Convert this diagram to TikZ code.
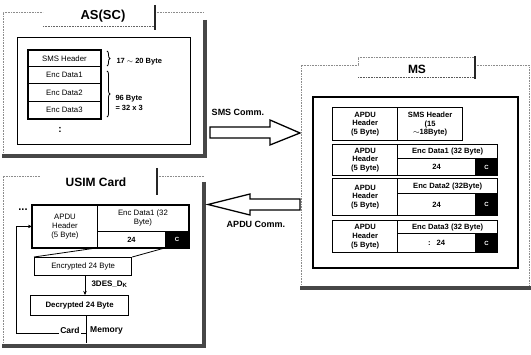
\documentclass[tikz,border=0pt]{standalone}
\usepackage{fontspec}
\setmainfont{Liberation Sans}
\usetikzlibrary{decorations.pathreplacing,arrows.meta}
\begin{document}
\begin{tikzpicture}[x=1pt,y=-1pt,
  cellbox/.style={draw, line width=0.9pt, inner sep=0pt, align=center,
    font=\fontsize{7.8}{9}\selectfont, anchor=north west},
  mscell/.style={cellbox, line width=1.3pt, font=\bfseries\fontsize{7.6}{8.8}\selectfont},
  blackcell/.style={cellbox, fill=black, text=white, font=\bfseries\fontsize{6}{7}\selectfont},
  faint/.style={draw=black!45, line width=0.6pt, dash pattern=on 0.8pt off 0.8pt},
  shadow/.style={draw=black!72, line width=3.6pt},
  tabbar/.style={draw=black!85, line width=2pt},
  titletext/.style={font=\bfseries\fontsize{13}{14}\selectfont},
  commtext/.style={font=\bfseries\fontsize{9}{10}\selectfont},
  blockarrow/.style={draw, line width=1.3pt, fill=white, line join=miter}
]
\useasboundingbox (0,0) rectangle (531,355);

% ===== AS(SC) frame =====
\draw[faint] (3,156) -- (3,12) -- (43,12);
\draw[faint] (155,12) -- (204,12);
\draw[faint, draw=black!60, line width=0.9pt] (43,26) -- (155,26);
\draw[tabbar] (155,5) -- (155,30);
\draw[shadow] (205,20) -- (205,156) -- (2,156);
\node[titletext] (astitle) at (103,16) {AS(SC)};
\draw[line width=1pt] (17,38) rectangle (190,145);

\node[cellbox, minimum width=72pt, minimum height=16pt] (ash) at (28,50) {SMS Header};
\node[cellbox, minimum width=72pt, minimum height=17pt] (ae1) at (28,66) {Enc Data1};
\node[cellbox, minimum width=72pt, minimum height=18pt] (ae2) at (28,83) {Enc Data2};
\node[cellbox, minimum width=72pt, minimum height=17pt] (ae3) at (28,101) {Enc Data3};
\draw[line width=1.5pt] (ash.north west) rectangle (ae3.south east);
\node[font=\bfseries\fontsize{10}{10}\selectfont] (adots) at (60,130) {:};

\draw[decorate, decoration={brace, amplitude=3pt}, line width=0.8pt] (107,51) -- (107,66);
\draw[decorate, decoration={brace, amplitude=3pt}, line width=0.8pt] (107,71) -- (107,117);
\node[anchor=west, font=\bfseries\fontsize{7.5}{8}\selectfont] (b1) at (113,62) {17 $\sim$ 20 Byte};
\node[anchor=west, align=left, font=\bfseries\fontsize{7.5}{10}\selectfont] (b2) at (112,103) {96 Byte\\= 32 x 3};

% ===== USIM Card frame =====
\draw[faint] (3,346) -- (3,176) -- (40,176);
\draw[faint] (157,176) -- (204,176);
\draw[tabbar] (157,168) -- (157,195);
\draw[shadow] (204,182) -- (204,346) -- (2,346);
\node[titletext, font=\bfseries\fontsize{12}{13}\selectfont] (usimtitle) at (96,182) {USIM Card};

\node[anchor=base, inner sep=0pt, font=\bfseries\fontsize{11}{11}\selectfont] (udots) at (23,211) {...};
\node[cellbox, minimum width=65pt, minimum height=42pt] (uah) at (32,205) {APDU\\Header\\(5 Byte)};
\node[cellbox, minimum width=91pt, minimum height=26pt] (uenc) at (97,205) {Enc Data1 (32\\Byte)};
\node[cellbox, minimum width=68pt, minimum height=16pt, font=\bfseries\fontsize{7.5}{8}\selectfont] (u24) at (97,231) {24};
\node[blackcell, minimum width=23pt, minimum height=16pt] (uc) at (165,231) {C};
\draw[line width=1.4pt] (uah.north west) rectangle (uc.south east);

\node[cellbox, line width=1.3pt, minimum width=97pt, minimum height=18pt] (encr) at (34,257) {Encrypted 24 Byte};
\node[cellbox, line width=1.3pt, minimum width=98pt, minimum height=20pt, font=\bfseries\fontsize{7.8}{9}\selectfont] (decr) at (30,295) {Decrypted 24 Byte};
\draw[line width=0.8pt] (u24.south west) -- (encr.north west);
\draw[line width=0.8pt] (uc.south west) -- (encr.north east);
\draw[line width=0.9pt, -{Stealth[length=4pt,width=3.5pt]}] ([xshift=51pt]encr.south west) -- ([xshift=55pt]decr.north west);
\node[anchor=west, font=\bfseries\fontsize{8}{9}\selectfont] (des) at (88,284) {3DES\_D$_{\mathbf{K}}$};

\coordinate (lpc) at (86,333);
\coordinate (lpl) at (16,333);
\draw[line width=0.9pt] ([xshift=56pt]decr.south west) -- (86,343);
\draw[line width=0.9pt, -{Stealth[length=4pt,width=3.5pt]}] (lpc) -- (lpl) |- (uah.west);
\node[fill=white, inner sep=1pt, font=\bfseries\fontsize{8.5}{9}\selectfont] (card) at (70,330) {Card};
\node[anchor=west, inner sep=1pt, font=\bfseries\fontsize{8.5}{9}\selectfont] (mem) at (89,330) {Memory};

% ===== MS frame =====
\draw[faint] (301,288) -- (301,65) -- (358,65) -- (358,57) -- (475,57);
\draw[faint] (475,65) -- (529,65) -- (529,288);
\draw[faint, draw=black!65, line width=1pt] (358,78) -- (475,78);
\draw[tabbar] (475,56) -- (475,79);
\draw[shadow] (300,288) -- (531,288);
\node[titletext, font=\bfseries\fontsize{12}{13}\selectfont] (mstitle) at (417,69) {MS};
\draw[line width=1.2pt] (313,97) rectangle (518,268);

% row 1
\node[mscell, minimum width=65pt, minimum height=33pt] (r1a) at (332,107) {APDU\\Header\\(5 Byte)};
\node[mscell, minimum width=65pt, minimum height=33pt] (r1s) at (397,107) {SMS Header\\(15\\$\sim$18Byte)};
% row 2
\node[mscell, minimum width=65pt, minimum height=31pt] (r2a) at (332,144) {APDU\\Header\\(5 Byte)};
\node[mscell, minimum width=100pt, minimum height=14pt] (r2e) at (397,144) {Enc Data1 (32 Byte)};
\node[mscell, minimum width=78pt, minimum height=17pt] (r2n) at (397,158) {24};
\node[blackcell, minimum width=22pt, minimum height=17pt] (r2c) at (475,158) {C};
% row 3
\node[mscell, minimum width=65pt, minimum height=37pt] (r3a) at (332,178) {APDU\\Header\\(5 Byte)};
\node[mscell, minimum width=100pt, minimum height=15pt] (r3e) at (397,178) {Enc Data2 (32Byte)};
\node[mscell, minimum width=78pt, minimum height=22pt] (r3n) at (397,193) {24};
\node[blackcell, minimum width=22pt, minimum height=22pt] (r3c) at (475,193) {C};
% row 4
\node[mscell, minimum width=65pt, minimum height=32pt] (r4a) at (332,220) {APDU\\Header\\(5 Byte)};
\node[mscell, minimum width=100pt, minimum height=13pt] (r4e) at (397,220) {Enc Data3 (32 Byte)};
\node[mscell, minimum width=78pt, minimum height=19pt] (r4n) at (397,233) {:\hspace{6pt}24};
\node[blackcell, minimum width=22pt, minimum height=19pt] (r4c) at (475,233) {C};

% ===== communication arrows =====
\draw[blockarrow] (210,127) -- (270,127) -- (270,120) -- (300,133) -- (270,145) -- (270,138) -- (210,138) -- cycle;
\node[commtext] (smsc) at (238,112) {SMS Comm.};
\draw[blockarrow] (300,199) -- (250,199) -- (250,194) -- (208,204.5) -- (250,215) -- (250,210) -- (300,210) -- cycle;
\node[commtext] (apduc) at (256,224) {APDU Comm.};
\end{tikzpicture}
\end{document}
